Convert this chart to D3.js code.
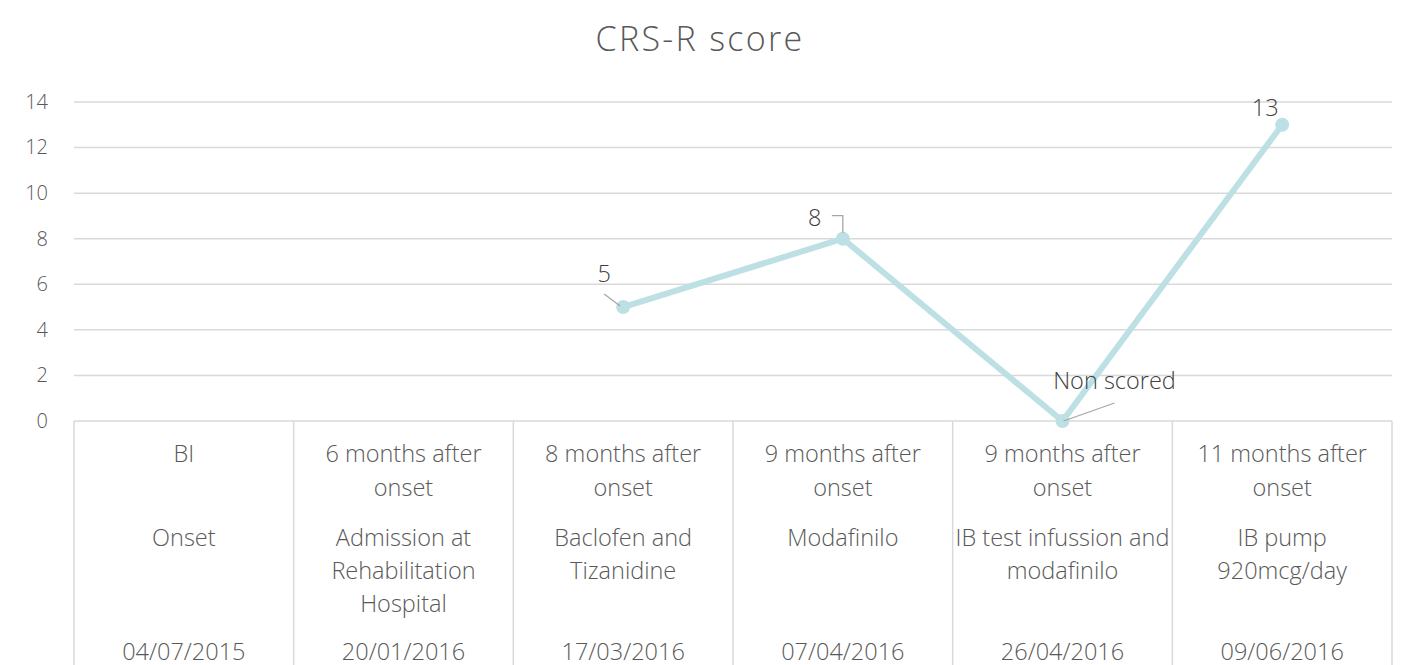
<!DOCTYPE html>
<html>
<head>
<meta charset="utf-8">
<script src="https://cdn.jsdelivr.net/npm/d3@7"></script>
<style>
  body { margin: 0; background: #fff; }
  svg text { font-family: "Open Sans", Lato, sans-serif; font-weight: 300; fill: #404040; }
</style>
</head>
<body>
<svg id="chart" width="1401" height="665"></svg>
<script>
// chart data
const milestones = ["BI", "6 months after onset", "8 months after onset", "9 months after onset", "9 months after onset", "11 months after onset"];
const treatments = ["Onset", "Admission at Rehabilitation Hospital", "Baclofen and Tizanidine", "Modafinilo", "IB test infussion and modafinilo", "IB pump 920mcg/day"];
const dates = ["04/07/2015", "20/01/2016", "17/03/2016", "07/04/2016", "26/04/2016", "09/06/2016"];
const scores = [null, null, 5, 8, 0, 13];
const scoreLabels = ["", "", "5", "8", "Non scored", "13"];
const yTicks = [0, 2, 4, 6, 8, 10, 12, 14];

// wrapped lines for table cells
const milestoneLines = [["BI"], ["6 months after", "onset"], ["8 months after", "onset"], ["9 months after", "onset"], ["9 months after", "onset"], ["11 months after", "onset"]];
const treatmentLines = [["Onset"], ["Admission at", "Rehabilitation", "Hospital"], ["Baclofen and", "Tizanidine"], ["Modafinilo"], ["IB test infussion and", "modafinilo"], ["IB pump", "920mcg/day"]];

const svg = d3.select("svg#chart");
const plotLeft = 74, plotRight = 1392, plotTop = 102, plotBottom = 421;

const x = d3.scaleBand().domain(d3.range(milestones.length)).range([plotLeft, plotRight]);
const y = d3.scaleLinear().domain([0, 14]).range([plotBottom, plotTop]);

// title
svg.append("text")
  .attr("x", 700).attr("y", 51)
  .attr("text-anchor", "middle")
  .style("font-size", "34px")
  .style("letter-spacing", "2.3px")
  .style("fill", "#595959")
  .text("CRS-R score");

// gridlines
svg.append("g")
  .selectAll("line")
  .data(yTicks.filter(d => d > 0))
  .join("line")
  .attr("x1", plotLeft).attr("x2", plotRight)
  .attr("y1", d => y(d)).attr("y2", d => y(d))
  .attr("stroke", "#d9d9d9").attr("stroke-width", 1.5);

// y axis
const yAxis = svg.append("g")
  .attr("transform", `translate(${plotLeft},0)`)
  .call(d3.axisLeft(y).tickValues(yTicks).tickSize(0).tickPadding(26));
yAxis.select(".domain").remove();
yAxis.selectAll("text").style("font-size", "20px").style("fill", "#595959");

// table lines
svg.append("line")
  .attr("x1", plotLeft).attr("x2", plotRight)
  .attr("y1", plotBottom).attr("y2", plotBottom)
  .attr("stroke", "#d9d9d9").attr("stroke-width", 1.5);
svg.append("g")
  .selectAll("line")
  .data(d3.range(milestones.length + 1))
  .join("line")
  .attr("x1", i => plotLeft + i * x.bandwidth())
  .attr("x2", i => plotLeft + i * x.bandwidth())
  .attr("y1", plotBottom).attr("y2", 665)
  .attr("stroke", "#d9d9d9").attr("stroke-width", 1.5);

// table text
const cells = svg.append("g").selectAll("g")
  .data(d3.range(milestones.length))
  .join("g")
  .attr("transform", i => `translate(${x(i) + x.bandwidth() / 2},0)`);

function addLines(sel, linesArr, y0, step) {
  sel.each(function (i) {
    d3.select(this).selectAll(null)
      .data(linesArr[i])
      .join("text")
      .attr("x", 0)
      .attr("y", (d, k) => y0 + k * step)
      .attr("text-anchor", "middle")
      .style("font-size", "23.5px")
      .style("fill", "#595959")
      .text(d => d);
  });
}
addLines(cells, milestoneLines, 462, 34);
addLines(cells, treatmentLines, 546, 33);
addLines(cells, dates.map(d => [d]), 660, 0);

// line series
const pts = scores.map((v, i) => ({ i, v, label: scoreLabels[i] })).filter(d => d.v !== null);
const line = d3.line()
  .x(d => x(d.i) + x.bandwidth() / 2)
  .y(d => y(d.v));

svg.append("path")
  .datum(pts)
  .attr("d", line)
  .attr("fill", "none")
  .attr("stroke", "#bde0e4")
  .attr("stroke-width", 6)
  .attr("stroke-linejoin", "round");

svg.append("g")
  .selectAll("circle")
  .data(pts)
  .join("circle")
  .attr("cx", d => x(d.i) + x.bandwidth() / 2)
  .attr("cy", d => y(d.v))
  .attr("r", 7)
  .attr("fill", "#bde0e4");

// data labels with leader lines (offsets relative to point)
const labelPos = {
  2: { dx: -19, dy: -25.5, lead: [[-19, -13], [-3, -1]] },
  3: { dx: -28, dy: -13, lead: [[-11, -23], [0, -23], [0, -6]] },
  4: { dx: 52, dy: -32, lead: [[1, 0], [52, -18]] },
  5: { dx: -17, dy: -9, lead: null }
};
pts.forEach(d => {
  const cx = x(d.i) + x.bandwidth() / 2, cy = y(d.v);
  const p = labelPos[d.i];
  svg.append("text")
    .attr("x", cx + p.dx).attr("y", cy + p.dy)
    .attr("text-anchor", "middle")
    .style("font-size", "23.5px")
    .text(d.label);
  if (p.lead) {
    svg.append("path")
      .attr("d", d3.line()(p.lead.map(q => [cx + q[0], cy + q[1]])))
      .attr("fill", "none")
      .attr("stroke", "#a6a6a6")
      .attr("stroke-width", 1.3);
  }
});
</script>
</body>
</html>
